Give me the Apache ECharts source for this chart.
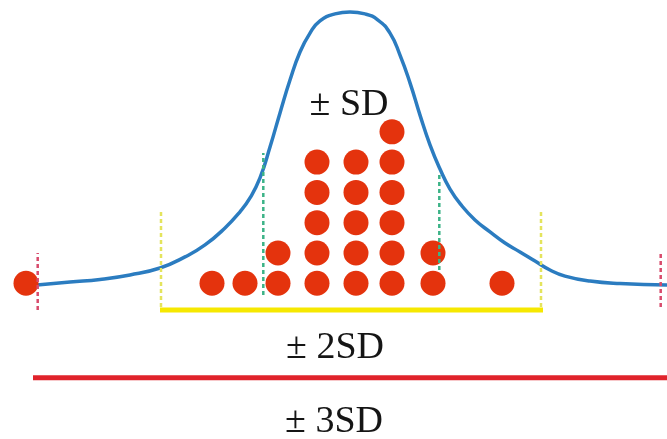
<!DOCTYPE html>
<html>
<head>
<meta charset="utf-8">
<title>± SD</title>
<script src="https://cdn.jsdelivr.net/npm/echarts@6/dist/echarts.min.js"></script>
<style>
  html, body { margin: 0; padding: 0; background: #ffffff; }
  #chart { width: 667px; height: 439px; }
</style>
</head>
<body>
<div id="chart"></div>
<script>
// Observation columns (in SD units from the mean) and how many dots are stacked in each
const dotPositions = [-3.24, -1.38, -1.05, -0.72, -0.33, 0.06, 0.42, 0.83, 1.52];
const dotCounts    = [1, 1, 1, 2, 5, 5, 6, 2, 1];

// Bell curve outline: x in SD units, relative height (peak = 1)
const curveX = [-3.13, -2.80, -2.50, -2.20, -1.90, -1.65, -1.45, -1.25, -1.10, -1.00, -0.90,
                -0.80, -0.70, -0.60, -0.50, -0.40, -0.30, -0.15, 0.00, 0.15, 0.28, 0.40,
                0.50, 0.60, 0.70, 0.80, 0.90, 1.00, 1.12, 1.25, 1.40, 1.55, 1.70,
                1.85, 2.00, 2.15, 2.40, 2.70, 3.17];
const curveH = [0.018, 0.029, 0.038, 0.054, 0.079, 0.119, 0.162, 0.223, 0.281, 0.331, 0.403,
                0.514, 0.637, 0.755, 0.856, 0.924, 0.968, 0.993, 1.000, 0.993, 0.971, 0.924,
                0.845, 0.745, 0.629, 0.522, 0.435, 0.363, 0.302, 0.252, 0.209, 0.169, 0.137,
                0.104, 0.072, 0.050, 0.032, 0.023, 0.018];

// Dashed boundary markers: position, bottom and top (in dot-stack levels)
const sd1Lines = [[-0.867, 0.61, 5.30], [0.893, 1.44, 4.64]];
const sd2Lines = [[-1.89, 0.22, 3.42], [1.91, 0.22, 3.42]];
const sd3Lines = [[-3.123, 0.12, 2.00], [3.107, 0.22, 2.03]];

// Range bars: start, end, level
const sd2Range = [-1.90, 1.93, 0.12];
const sd3Range = [-3.17, 3.17, -2.12];

// Labels
const labelTexts = ['± SD', '± 2SD', '± 3SD'];

const dotData = [];
dotPositions.forEach((x, i) => {
  for (let k = 1; k <= dotCounts[i]; k++) dotData.push([x, k]);
});

function dashedSeries(lines, color) {
  return lines.map(l => ({
    type: 'line',
    data: [[l[0], l[1]], [l[0], l[2]]],
    symbol: 'none',
    silent: true,
    z: 4,
    lineStyle: { color: color, width: 2.5, type: [4, 3] }
  }));
}

function rangeSeries(r, color) {
  return {
    type: 'line',
    data: [[r[0], r[2]], [r[1], r[2]]],
    symbol: 'none',
    silent: true,
    z: 2,
    lineStyle: { color: color, width: 5, cap: 'butt' }
  };
}

const chart = echarts.init(document.getElementById('chart'), null, { renderer: 'canvas' });

const serif = "'Liberation Serif', 'Times New Roman', serif";
const labelStyle = (text) => ({ text: text, font: '38px ' + serif, fill: '#151515', align: 'center', verticalAlign: 'middle' });

chart.setOption({
  animation: false,
  backgroundColor: '#ffffff',
  grid: { left: 0, right: 0, top: 0, bottom: 0 },
  xAxis: {
    type: 'value', min: -3.5, max: 3.17,
    show: false
  },
  yAxis: [
    { type: 'value', min: -4.14, max: 10.35, show: false },
    { type: 'value', min: -0.536, max: 1.043, show: false }
  ],
  series: [
    rangeSeries(sd2Range, '#f6e800'),
    rangeSeries(sd3Range, '#e0232b'),
    {
      type: 'line',
      yAxisIndex: 1,
      data: curveX.map((x, i) => [x, curveH[i]]),
      smooth: 0.5,
      symbol: 'none',
      silent: true,
      z: 3,
      lineStyle: { color: '#2b7cc0', width: 3.5 }
    },
    {
      type: 'scatter',
      data: dotData,
      symbol: 'circle',
      symbolSize: 25,
      silent: true,
      z: 3,
      itemStyle: { color: '#e4330d', opacity: 1 }
    },
    ...dashedSeries(sd1Lines, '#3cb387'),
    ...dashedSeries(sd2Lines, '#e4e45c'),
    ...dashedSeries(sd3Lines, '#d84a6c')
  ],
  graphic: [
    { type: 'text', x: 349, y: 105, style: labelStyle(labelTexts[0]) },
    { type: 'text', x: 335, y: 348, style: labelStyle(labelTexts[1]) },
    { type: 'text', x: 334, y: 422, style: labelStyle(labelTexts[2]) }
  ]
});
</script>
</body>
</html>
